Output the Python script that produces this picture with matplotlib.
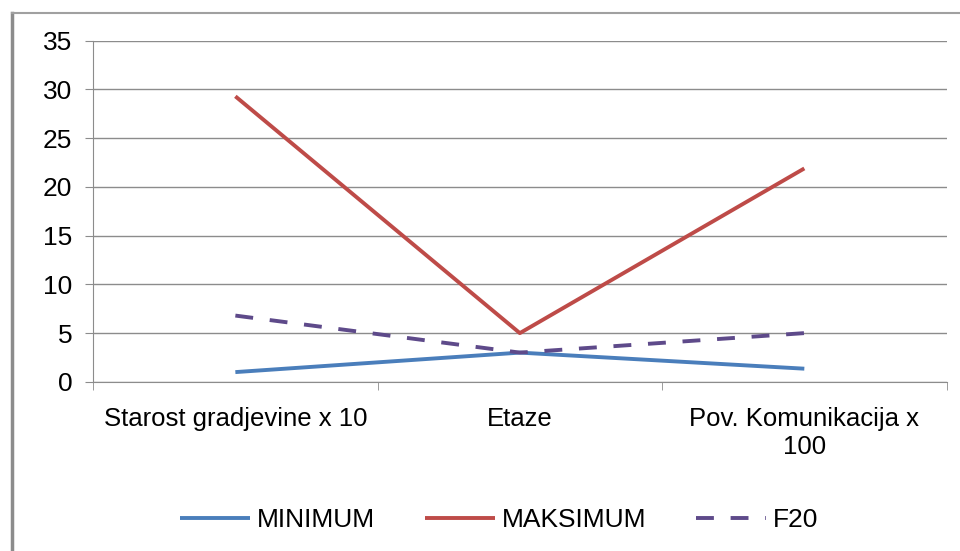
import matplotlib.pyplot as plt
from matplotlib.lines import Line2D

# podaci
categories = ["Starost gradjevine x 10", "Etaze", "Pov. Komunikacija x\n100"]
minimum = [1.0, 3.0, 1.35]
maksimum = [29.3, 5.0, 21.9]
f20 = [6.8, 3.0, 5.0]

plt.rcParams['font.family'] = ['Liberation Sans', 'DejaVu Sans']

fig = plt.figure(figsize=(9.6, 5.51), dpi=100)
ax = fig.add_axes([0.097, 0.307, 0.889, 0.619])

x = list(range(len(categories)))
ax.plot(x, minimum, color='#4A7EBB', lw=2.8, label='MINIMUM', solid_capstyle='butt')
ax.plot(x, maksimum, color='#BE4B48', lw=2.8, label='MAKSIMUM', solid_capstyle='butt')
ax.plot(x, f20, color='#5E4A8A', lw=2.8, ls=(0, (4.6, 4.3)), label='F20')

ax.set_xlim(-0.5, 2.5)
ax.set_ylim(0, 35)
ax.set_yticks(range(0, 36, 5))
ax.yaxis.grid(True, color='#8C8C8C', lw=1)
ax.set_axisbelow(True)

ax.set_xticks(x)
ax.set_xticklabels(categories)
ax.set_xticks([-0.5, 0.5, 1.5, 2.5], minor=True)
ax.tick_params(axis='x', which='major', length=0, pad=18, labelsize=18.5)
ax.tick_params(axis='x', which='minor', length=6, color='#8C8C8C', direction='out')
ax.tick_params(axis='y', length=6, color='#8C8C8C', labelsize=19, pad=9)

for s in ['top', 'right']:
    ax.spines[s].set_visible(False)
ax.spines['left'].set_color('#8C8C8C')
ax.spines['bottom'].set_color('#8C8C8C')

fig.legend(loc='center', bbox_to_anchor=(0.52, 0.056), ncol=3, frameon=False,
           fontsize=19, handlelength=2.65, handletextpad=0.25, columnspacing=1.9)

# okvir
fig.add_artist(Line2D([12 / 960, 12 / 960], [0, 1 - 13 / 551], transform=fig.transFigure,
                      color='#8C8C8C', lw=2.5))
fig.add_artist(Line2D([12 / 960, 1], [1 - 13 / 551, 1 - 13 / 551], transform=fig.transFigure,
                      color='#A0A0A0', lw=1.5))

fig.savefig('out.png', dpi=100, facecolor='white')
